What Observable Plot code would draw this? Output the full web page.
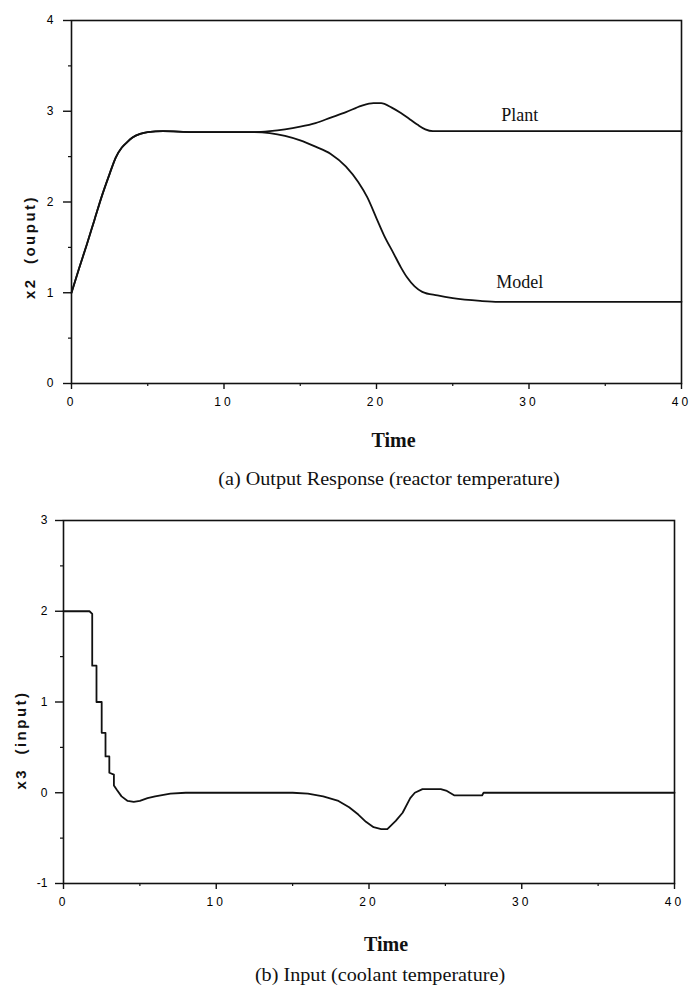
<!DOCTYPE html>
<html>
<head>
<meta charset="utf-8">
<script src="https://cdn.jsdelivr.net/npm/d3@7"></script>
<script src="https://cdn.jsdelivr.net/npm/@observablehq/plot@0.6"></script>
<style>
  html, body { margin: 0; padding: 0; background: #fff; }
  #fig { position: relative; width: 691px; height: 988px; overflow: hidden; }
  #c1 { position: absolute; left: 0; top: 0; width: 691px; }
  #c2 { position: absolute; left: 0; top: 490px; width: 691px; }
  #fig svg { display: block; max-width: none; }
  .cap { position: absolute; left: 0; font-family: "Liberation Serif", "Times New Roman", serif; font-size: 18px; color: #111; white-space: nowrap; transform: translate(-50%, -50%) scaleX(1.12); }
  .ylab { position: absolute; font-family: "Liberation Sans", Arial, sans-serif; font-weight: bold; font-size: 15px; letter-spacing: 2.5px; color: #111; white-space: pre; transform: translate(-50%, -50%) rotate(-90deg); }
  g[aria-label="x-axis tick label"] { letter-spacing: 3px; }
</style>
</head>
<body>
<div id="fig">
  <div id="c1"></div>
  <div id="c2"></div>
  <div class="ylab" id="ylab1"></div>
  <div class="ylab" id="ylab2"></div>
  <div class="cap" id="cap1"></div>
  <div class="cap" id="cap2"></div>
</div>
<script>
// ---------- data ----------
const timeTicks = [0, 10, 20, 30, 40];
const timeMinorTicks = [5, 15, 25, 35];
const topYTicks = [0, 1, 2, 3, 4];
const topYMinorTicks = [0.5, 1.5, 2.5, 3.5];
const bottomYTicks = [-1, 0, 1, 2, 3];
const bottomYMinorTicks = [-0.5, 0.5, 1.5, 2.5];

const plantT = [0, 0.5, 1.0, 1.5, 2.0, 2.5, 2.9, 3.3, 3.65, 4.0, 4.5, 5.0, 6, 8, 10, 12, 13, 14, 15, 16, 17, 18, 19, 19.8, 20.3, 21, 21.6, 22.2, 22.7, 23.2, 23.7, 25, 30, 40];
const plantV = [1.00, 1.27, 1.53, 1.80, 2.07, 2.31, 2.49, 2.60, 2.66, 2.71, 2.75, 2.77, 2.78, 2.77, 2.77, 2.77, 2.78, 2.80, 2.83, 2.87, 2.93, 2.99, 3.06, 3.09, 3.09, 3.04, 2.98, 2.91, 2.85, 2.80, 2.78, 2.78, 2.78, 2.78];

const modelT = [0, 0.5, 1.0, 1.5, 2.0, 2.5, 2.9, 3.3, 3.65, 4.0, 4.5, 5.0, 6, 8, 10, 12, 13, 14, 15, 16, 17, 18, 18.8, 19.4, 20.0, 20.5, 21.1, 21.6, 22.0, 22.5, 23.0, 24.0, 25.0, 26.8, 28, 40];
const modelV = [1.00, 1.27, 1.53, 1.80, 2.07, 2.31, 2.49, 2.60, 2.66, 2.71, 2.75, 2.77, 2.78, 2.77, 2.77, 2.77, 2.76, 2.73, 2.68, 2.61, 2.53, 2.39, 2.22, 2.05, 1.82, 1.63, 1.44, 1.28, 1.17, 1.07, 1.01, 0.97, 0.94, 0.91, 0.90, 0.90];

const inputT = [0, 1.7, 1.88, 1.88, 2.16, 2.16, 2.5, 2.5, 2.75, 2.75, 3.0, 3.0, 3.3, 3.3, 3.5, 3.8, 4.2, 4.6, 5.0, 5.5, 6.0, 7.0, 8.0, 12, 15, 16, 17, 18, 18.7, 19.3, 19.8, 20.3, 20.8, 21.2, 21.75, 22.2, 22.7, 23.0, 23.5, 24.7, 25.1, 25.6, 27.4, 27.5, 40];
const inputV = [2.00, 2.00, 1.97, 1.40, 1.40, 1.00, 1.00, 0.66, 0.66, 0.40, 0.40, 0.22, 0.20, 0.08, 0.03, -0.04, -0.09, -0.10, -0.09, -0.06, -0.04, -0.01, 0.00, 0.00, 0.00, -0.01, -0.04, -0.09, -0.16, -0.24, -0.32, -0.38, -0.40, -0.40, -0.31, -0.22, -0.06, 0.00, 0.04, 0.04, 0.02, -0.03, -0.03, 0.00, 0.00];

const curveLabels = [
  {label: "Plant", t: 29.4, v: 2.96},
  {label: "Model", t: 29.4, v: 1.12}
];

const xLabel = "Time";
const topYLabel = "x2  (ouput)";
const bottomYLabel = "x3  (input)";
const caption1 = "(a) Output Response (reactor temperature)";
const caption2 = "(b) Input (coolant temperature)";

// ---------- build tables ----------
const plant = plantT.map((t, i) => ({t, v: plantV[i]}));
const model = modelT.map((t, i) => ({t, v: modelV[i]}));
const input = inputT.map((t, i) => ({t, v: inputV[i]}));

const sans = "'Liberation Sans', Arial, Helvetica, sans-serif";
const serif = "'Liberation Serif', 'Times New Roman', serif";
const ink = "#111";

function axes(yMajor, yMinor, ySize, yPad) {
  return [
    Plot.axisX(timeTicks, {tickSize: 6, tickPadding: 8, tickFormat: d => String(d), label: null, fontSize: 12, fontFamily: sans, stroke: ink, fill: "#000", strokeWidth: 1.4}),
    Plot.axisX(timeMinorTicks, {tickSize: 3, tickFormat: () => "", label: null, stroke: ink, strokeWidth: 1.2}),
    Plot.axisY(yMajor, {tickSize: ySize, tickPadding: yPad, tickFormat: d => String(d), label: null, fontSize: 12, fontFamily: sans, stroke: ink, fill: "#000", strokeWidth: 1.4}),
    Plot.axisY(yMinor, {tickSize: 3, tickFormat: () => "", label: null, stroke: ink, strokeWidth: 1.2})
  ];
}

const chartTop = Plot.plot({
  width: 691, height: 470,
  marginLeft: 71, marginRight: 10, marginTop: 20, marginBottom: 87,
  style: {fontFamily: sans, fontSize: "12px", color: ink, background: "transparent", overflow: "visible"},
  x: {domain: [0, 40]},
  y: {domain: [0, 4]},
  marks: [
    ...axes(topYTicks, topYMinorTicks, 8, 10),
    Plot.frame({stroke: ink, strokeWidth: 1.6}),
    Plot.line(plant, {x: "t", y: "v", curve: "monotone-x", stroke: ink, strokeWidth: 1.8}),
    Plot.line(model, {x: "t", y: "v", curve: "monotone-x", stroke: ink, strokeWidth: 1.8}),
    Plot.text(curveLabels, {x: "t", y: "v", text: "label", fontFamily: serif, fontSize: 18, fill: ink}),
    Plot.text([xLabel], {frameAnchor: "bottom", dx: 17, dy: 63, fontFamily: serif, fontWeight: "bold", fontSize: 20, fill: ink})
  ]
});

const chartBottom = Plot.plot({
  width: 691, height: 470,
  marginLeft: 63, marginRight: 17, marginTop: 30, marginBottom: 77,
  style: {fontFamily: sans, fontSize: "12px", color: ink, background: "transparent", overflow: "visible"},
  x: {domain: [0, 40]},
  y: {domain: [-1, 3]},
  marks: [
    ...axes(bottomYTicks, bottomYMinorTicks, 8, 8),
    Plot.frame({stroke: ink, strokeWidth: 1.6}),
    Plot.line(input, {x: "t", y: "v", curve: "linear", stroke: ink, strokeWidth: 1.8}),
    Plot.text([xLabel], {frameAnchor: "bottom", dx: 17, dy: 67, fontFamily: serif, fontWeight: "bold", fontSize: 20, fill: ink})
  ]
});

document.getElementById("c1").appendChild(chartTop);
document.getElementById("c2").appendChild(chartBottom);

function place(id, text, x, y) {
  const el = document.getElementById(id);
  el.textContent = text;
  el.style.left = x + "px";
  el.style.top = y + "px";
}
place("ylab1", topYLabel, 29, 247);
place("ylab2", bottomYLabel, 20, 740);
place("cap1", caption1, 389, 479);
place("cap2", caption2, 380, 975);
</script>
</body>
</html>
